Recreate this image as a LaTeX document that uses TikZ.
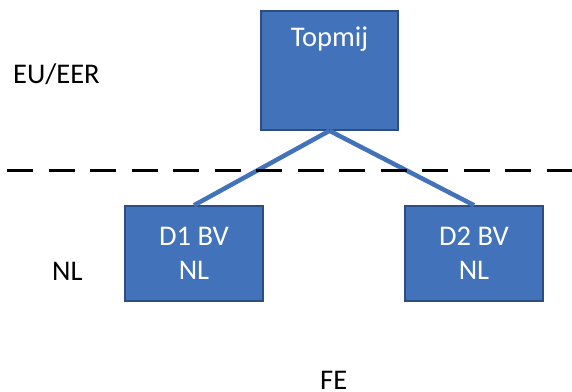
\documentclass[tikz,border=0pt]{standalone}
\usepackage{fontspec}
\setmainfont{Carlito}
\usepackage{tikz}
\usetikzlibrary{positioning}
\definecolor{boxblue}{RGB}{66,114,186}
\definecolor{boxedge}{RGB}{44,78,130}

\begin{document}
\begin{tikzpicture}[x=1bp,y=-1bp,
		entity/.style={draw=boxedge,line width=1.5bp,fill=boxblue,text=white,align=center,inner sep=0pt},
		link/.style={draw=boxblue,line width=4.5bp},
		zone/.style={text=black,anchor=base west,inner sep=0pt}]
			\useasboundingbox (0,0) rectangle (572,391);
			\fontsize{28.5bp}{34bp}\selectfont

			\coordinate (cut_l) at (7,170);
			\coordinate (cut_r) at (572,170);

			\node[entity,minimum width=137bp,minimum height=119bp] (topmij) at (329.5,70.5) {};
			\node[text=white,anchor=base,inner sep=0pt] (topmij_txt) at ([yshift=-36bp]topmij.north) {Topmij};
			\node[entity,minimum width=138bp,minimum height=95bp] (d1) at (194,253.5) {D1 BV\\NL};
			\node[entity,minimum width=138bp,minimum height=95bp] (d2) at (474,253.5) {D2 BV\\NL};

			\draw[link] (topmij.south)--(d1.north);
			\draw[link] (topmij.south)--(d2.north);

			\draw[line width=3bp,dash pattern=on 26bp off 15.5bp] (cut_l)--(cut_r);

			\node[zone] (eu) at (13,83) {EU/EER};
			\node[zone] (nl) at (52,280) {NL};
			\node[zone] (fe) at (320,389) {FE};
		\end{tikzpicture}
\end{document}
